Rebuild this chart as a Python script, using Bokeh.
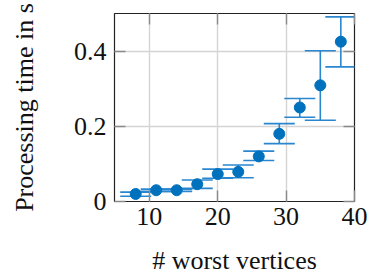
from bokeh.plotting import figure
from bokeh.models import Whisker, TeeHead, ColumnDataSource, FixedTicker, LinearAxis, Range1d
from bokeh.embed import file_html
from bokeh.resources import INLINE

# data
worst_vertices = [8, 11, 14, 17, 20, 23, 26, 29, 32, 35, 38]
time_mean = [0.020, 0.030, 0.030, 0.046, 0.073, 0.079, 0.120, 0.180, 0.250, 0.309, 0.425]
time_upper = [0.025, 0.033, 0.033, 0.057, 0.086, 0.097, 0.134, 0.207, 0.274, 0.401, 0.491]
time_lower = [0.014, 0.027, 0.027, 0.035, 0.062, 0.063, 0.109, 0.154, 0.224, 0.216, 0.358]
x_ticks = [10, 20, 30, 40]
y_ticks = [0, 0.2, 0.4]

FONT = "Liberation Serif"
BLUE = "#0072BD"
ERR = "#2a86cf"

src = ColumnDataSource(dict(x=worst_vertices, y=time_mean, upper=time_upper, lower=time_lower))

p = figure(frame_width=240, frame_height=188, output_backend="svg", toolbar_location=None,
           x_range=Range1d(4.9, 40), y_range=Range1d(0, 0.5),
           min_border_left=114, min_border_right=13, min_border_top=13, min_border_bottom=77)
p.background_fill_color = "white"
p.border_fill_color = "white"
p.outline_line_color = "#222222"
p.outline_line_width = 1.2

p.xgrid.ticker = FixedTicker(ticks=x_ticks)
p.ygrid.ticker = FixedTicker(ticks=y_ticks)
p.grid.grid_line_color = "#d4d4d4"
p.grid.grid_line_width = 1.4

for ax in [p.xaxis[0], p.yaxis[0]]:
    ax.axis_line_color = None
    ax.major_tick_in = 11
    ax.major_tick_out = 0
    ax.major_tick_line_color = "#8a8a8a"
    ax.major_tick_line_width = 1.4
    ax.minor_tick_line_color = None
    ax.major_label_text_font = FONT
    ax.major_label_text_font_size = "26px"
    ax.major_label_text_color = "#111111"
    ax.axis_label_text_font = FONT
    ax.axis_label_text_font_size = "26px"
    ax.axis_label_text_font_style = "normal"
    ax.axis_label_text_color = "#111111"

p.xaxis[0].ticker = FixedTicker(ticks=x_ticks)
p.yaxis[0].ticker = FixedTicker(ticks=y_ticks)
p.yaxis[0].major_label_overrides = {0: "0", 0.2: "0.2", 0.4: "0.4"}
p.xaxis[0].major_label_standoff = 6
p.yaxis[0].major_label_standoff = 8
p.xaxis[0].axis_label = "# worst vertices"
p.yaxis[0].axis_label = "Processing time in s"
p.xaxis[0].axis_label_standoff = 18
p.yaxis[0].axis_label_standoff = 32

# mirrored ticks on top and right (no labels)
top = LinearAxis(ticker=FixedTicker(ticks=x_ticks),
                 major_label_overrides={t: "" for t in x_ticks},
                 axis_line_color=None, major_tick_in=11, major_tick_out=0,
                 major_tick_line_color="#8a8a8a", major_tick_line_width=1.4,
                 minor_tick_line_color=None, major_label_standoff=0)
right = LinearAxis(ticker=FixedTicker(ticks=y_ticks),
                   major_label_overrides={t: "" for t in y_ticks},
                   axis_line_color=None, major_tick_in=11, major_tick_out=0,
                   major_tick_line_color="#8a8a8a", major_tick_line_width=1.4,
                   minor_tick_line_color=None, major_label_standoff=0)
p.add_layout(top, "above")
p.add_layout(right, "right")

w = Whisker(source=src, base="x", upper="upper", lower="lower", dimension="height",
            line_color=ERR, line_width=1.6,
            upper_head=TeeHead(size=31, line_color=ERR, line_width=1.6),
            lower_head=TeeHead(size=31, line_color=ERR, line_width=1.6))
p.add_layout(w)

p.scatter("x", "y", source=src, size=11, fill_color=BLUE, line_color=BLUE)

open("out.html", "w").write(file_html(p, INLINE))
